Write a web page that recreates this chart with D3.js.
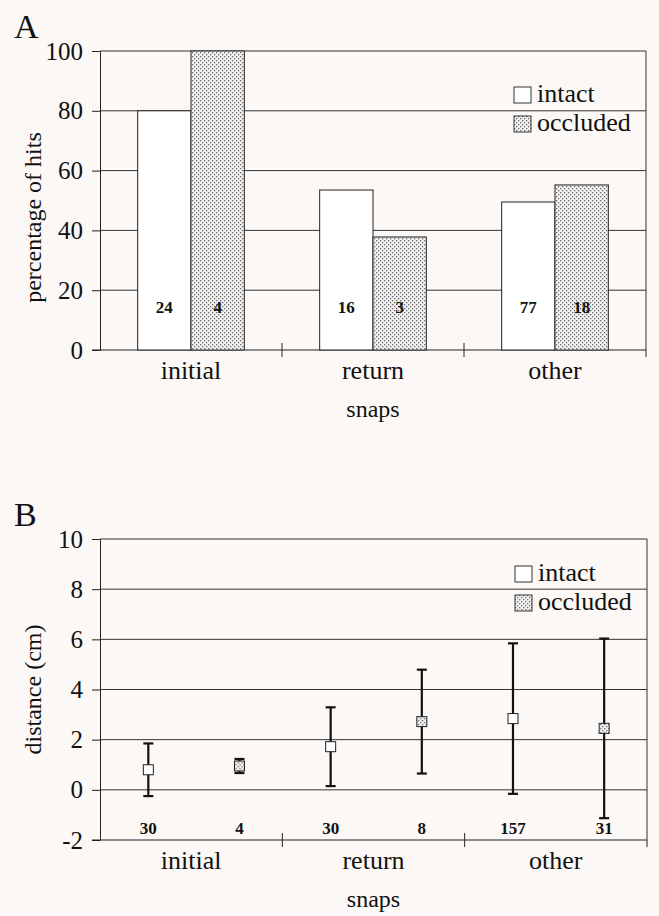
<!DOCTYPE html>
<html>
<head>
    <meta charset="utf-8">
    <script src="https://d3js.org/d3.v7.min.js" charset="utf-8"></script>
    <style>
        body { margin: 0; background: #fbf8f6; }
        svg text { font-family: "Liberation Serif", "Times New Roman", serif; fill: #111; }
    </style>
</head>
<body>
    <div id="chart_container"></div>
    <script>
        // shared categories / series
        const categories = ['initial', 'return', 'other'];
        const seriesNames = ['intact', 'occluded'];

        // panel A: percentage of hits
        const hitsIntact = [80, 53.5, 49.5];
        const hitsOccluded = [100, 37.8, 55.2];
        const hitsCountIntact = ['24', '16', '77'];
        const hitsCountOccluded = ['4', '3', '18'];
        const hitsTicks = [0, 20, 40, 60, 80, 100];

        // panel B: distance (cm), mean and error bar half-length
        const distMeanIntact = [0.8, 1.72, 2.84];
        const distErrIntact = [1.05, 1.57, 3.0];
        const distMeanOccluded = [0.95, 2.72, 2.45];
        const distErrOccluded = [0.28, 2.07, 3.58];
        const distCountIntact = ['30', '30', '157'];
        const distCountOccluded = ['4', '8', '31'];
        const distTicks = [-2, 0, 2, 4, 6, 8, 10];

        var width = 659,
            height = 916;

        const svg = d3.select('#chart_container')
            .append('svg')
            .attr('width', width)
            .attr('height', height);

        // dotted fill used for the occluded series
        const defs = svg.append('defs');
        const pat = defs.append('pattern')
            .attr('id', 'dots')
            .attr('width', 4)
            .attr('height', 4)
            .attr('patternUnits', 'userSpaceOnUse');
        pat.append('rect').attr('width', 4).attr('height', 4).attr('fill', '#f2f2f2');
        pat.append('rect').attr('x', 0).attr('y', 0).attr('width', 1.3).attr('height', 1.3).attr('fill', '#6a6a6a');
        pat.append('rect').attr('x', 2).attr('y', 2).attr('width', 1.3).attr('height', 1.3).attr('fill', '#6a6a6a');

        // draws frame, grid, axes and labels common to both panels
        const drawFrame = (g, x, y, ticks, box, yTitle, titleShift, letter) => {
            const [x0, x1] = x.range();
            const [yb, yt] = y.range();

            g.selectAll('.grid')
                .data(ticks.slice(1))
                .enter().append('line')
                .attr('x1', x0).attr('x2', x1)
                .attr('y1', d => y(d)).attr('y2', d => y(d))
                .attr('stroke', '#333').attr('stroke-width', 1);

            // right border
            g.append('line')
                .attr('x1', x1).attr('x2', x1)
                .attr('y1', yt).attr('y2', yb)
                .attr('stroke', '#333');

            // y axis
            const yAxis = g.append('g')
                .attr('transform', `translate(${x0},0)`)
                .call(d3.axisLeft(y).tickValues(ticks).tickFormat(d => String(d))
                    .tickSize(8).tickPadding(9).tickSizeOuter(0));
            yAxis.select('.domain').attr('stroke', '#222');
            yAxis.selectAll('.tick line').attr('stroke', '#222');
            yAxis.selectAll('text').style('font-size', '25px');

            // x axis: baseline with crossing ticks between categories
            g.append('line')
                .attr('x1', x0 - 8).attr('x2', x1)
                .attr('y1', yb).attr('y2', yb)
                .attr('stroke', '#222');
            const bounds = categories.slice(1).map(c => x(c));
            g.selectAll('.xt')
                .data(bounds)
                .enter().append('line')
                .attr('x1', d => d).attr('x2', d => d)
                .attr('y1', yb - 7).attr('y2', yb + 7)
                .attr('stroke', '#222');
            g.append('line')
                .attr('x1', x1).attr('x2', x1)
                .attr('y1', yb).attr('y2', yb + 7)
                .attr('stroke', '#222');

            g.selectAll('.xl')
                .data(categories)
                .enter().append('text')
                .attr('x', d => x(d) + x.bandwidth() / 2)
                .attr('y', yb + 29)
                .attr('text-anchor', 'middle')
                .style('font-size', '26px')
                .text(d => d);

            g.append('text')
                .attr('x', (x0 + x1) / 2)
                .attr('y', yb + 67)
                .attr('text-anchor', 'middle')
                .style('font-size', '24px')
                .text('snaps');

            g.append('text')
                .attr('transform', `translate(41,${(yt + yb) / 2 + titleShift}) rotate(-90)`)
                .attr('text-anchor', 'middle')
                .style('font-size', '24px')
                .text(yTitle);

            g.append('text')
                .attr('x', 14)
                .attr('y', yt - 13)
                .style('font-size', '34px')
                .text(letter);

            // legend
            const leg = g.selectAll('.leg')
                .data(seriesNames)
                .enter().append('g')
                .attr('transform', (d, i) => `translate(${box.x},${box.y + i * 29})`);
            leg.append('rect')
                .attr('width', 17).attr('height', 16)
                .attr('fill', (d, i) => i ? 'url(#dots)' : '#fff')
                .attr('stroke', '#333');
            leg.append('text')
                .attr('x', 23).attr('y', 15)
                .style('font-size', '26px')
                .text(d => d);
        };

        // ---------- Panel A ----------
        const gA = svg.append('g');
        const xA = d3.scaleBand().domain(categories).range([100, 646]);
        const yA = d3.scaleLinear().domain([0, 100]).range([350, 51]);
        const subA = d3.scaleBand().domain(seriesNames)
            .range([xA.bandwidth() * 0.207, xA.bandwidth() * 0.793]);

        drawFrame(gA, xA, yA, hitsTicks, { x: 514, y: 87 }, 'percentage of hits', 17, 'A');

        const barsA = categories.map((c, i) => [
            { cat: c, s: 'intact', v: hitsIntact[i], n: hitsCountIntact[i] },
            { cat: c, s: 'occluded', v: hitsOccluded[i], n: hitsCountOccluded[i] }
        ]).flat();

        gA.selectAll('.bar')
            .data(barsA)
            .enter().append('rect')
            .attr('x', d => xA(d.cat) + subA(d.s))
            .attr('width', subA.bandwidth())
            .attr('y', d => yA(d.v))
            .attr('height', d => yA(0) - yA(d.v))
            .attr('fill', d => d.s === 'intact' ? '#fff' : 'url(#dots)')
            .attr('stroke', '#222')
            .attr('stroke-width', 1);

        gA.selectAll('.cnt')
            .data(barsA)
            .enter().append('text')
            .attr('x', d => xA(d.cat) + subA(d.s) + subA.bandwidth() / 2)
            .attr('y', yA(12.5))
            .attr('text-anchor', 'middle')
            .style('font-size', '17px')
            .style('font-weight', 'bold')
            .text(d => d.n);

        // ---------- Panel B ----------
        const gB = svg.append('g');
        const xB = d3.scaleBand().domain(categories).range([100, 647]);
        const yB = d3.scaleLinear().domain([-2, 10]).range([840, 539]);
        const subB = d3.scalePoint().domain(seriesNames)
            .range([xB.bandwidth() * 0.265, xB.bandwidth() * 0.765]);

        drawFrame(gB, xB, yB, distTicks, { x: 515, y: 566 }, 'distance (cm)', 0, 'B');

        const ptsB = categories.map((c, i) => [
            { cat: c, s: 'intact', m: distMeanIntact[i], e: distErrIntact[i], n: distCountIntact[i] },
            { cat: c, s: 'occluded', m: distMeanOccluded[i], e: distErrOccluded[i], n: distCountOccluded[i] }
        ]).flat();

        const pg = gB.selectAll('.pt')
            .data(ptsB)
            .enter().append('g')
            .attr('transform', d => `translate(${xB(d.cat) + subB(d.s)},0)`);

        pg.append('line')
            .attr('y1', d => yB(d.m + d.e)).attr('y2', d => yB(d.m - d.e))
            .attr('stroke', '#111').attr('stroke-width', 2.2);
        pg.selectAll('.cap')
            .data(d => [d.m + d.e, d.m - d.e])
            .enter().append('line')
            .attr('x1', -5).attr('x2', 5)
            .attr('y1', d => yB(d)).attr('y2', d => yB(d))
            .attr('stroke', '#111').attr('stroke-width', 2.2);
        pg.append('rect')
            .attr('x', -5).attr('y', d => yB(d.m) - 5)
            .attr('width', 10).attr('height', 10)
            .attr('fill', d => d.s === 'intact' ? '#fff' : 'url(#dots)')
            .attr('stroke', '#222');
        pg.append('text')
            .attr('y', yB(-1.78))
            .attr('text-anchor', 'middle')
            .style('font-size', '17px')
            .style('font-weight', 'bold')
            .text(d => d.n);
    </script>
</body>
</html>
